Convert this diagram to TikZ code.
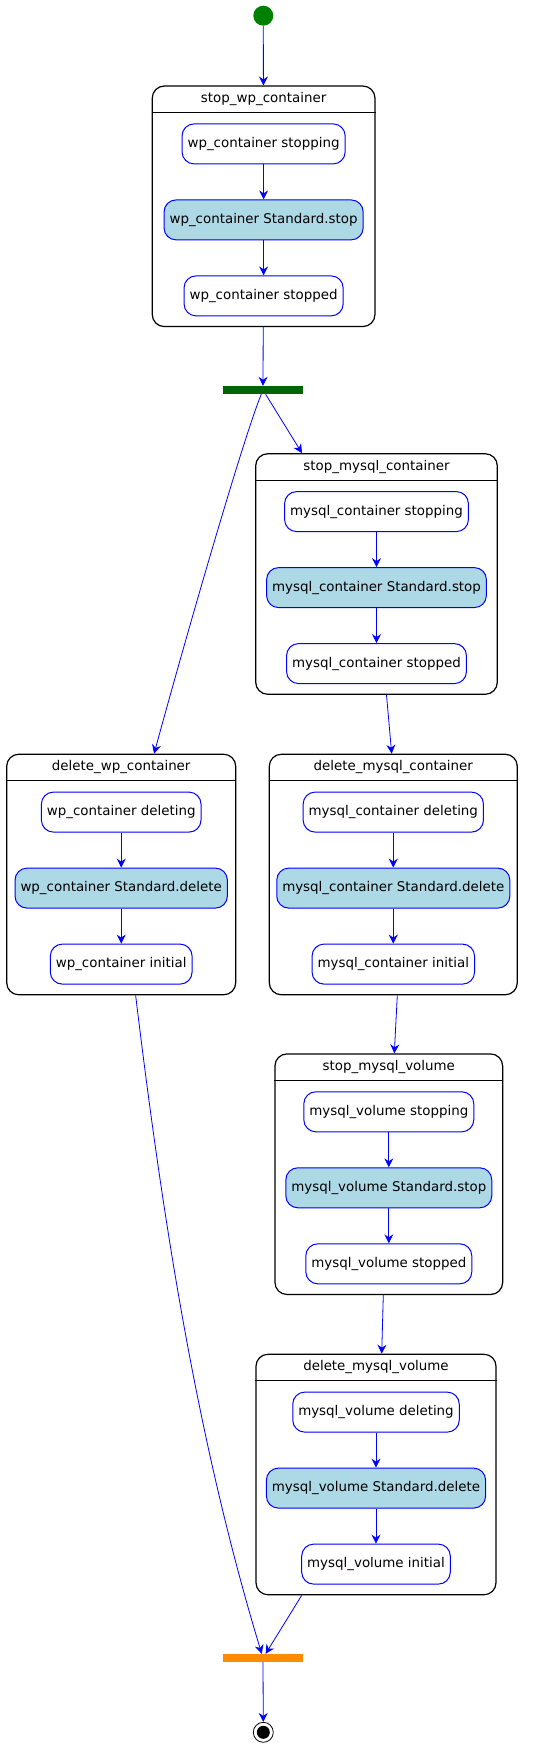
\documentclass[tikz,border=0pt]{standalone}
\usepackage{fontspec}
\setmainfont{DejaVu Sans}
\usetikzlibrary{arrows.meta}
\definecolor{lightblue}{HTML}{ADD8E6}
\definecolor{startgreen}{HTML}{008000}
\definecolor{forkgreen}{HTML}{006400}
\definecolor{joinorange}{HTML}{FF8C00}
\tikzstyle{compound} = [rectangle, rounded corners=12pt, minimum height=240.5pt, draw=black, line width=1.2pt]
\tikzstyle{header} = [anchor=north, minimum height=26.5pt, inner sep=0pt]
\tikzstyle{headline} = [line width=0.9pt]
\tikzstyle{activity} = [rectangle, rounded corners=12pt, minimum height=40pt, inner xsep=5.5pt, draw=blue, line width=1pt, fill=white]
\tikzstyle{call} = [activity, fill=lightblue]
\tikzstyle{bar} = [rectangle, minimum width=80pt, minimum height=8pt, inner sep=0pt]
\tikzstyle{arrow} = [blue, line width=0.8pt, -{Stealth[length=9pt,width=9pt,inset=3pt]}]

\begin{document}
\begin{tikzpicture}[x=1pt, y=-1pt, node distance=76pt, font=\fontsize{13.4}{16}\selectfont]
\useasboundingbox (0,0) rectangle (536,1747);
\node (start) [circle, fill=startgreen, minimum size=20pt, inner sep=0pt] at (263.3,15.7) {};

% stop_wp_container
\node (stopwp) [compound, minimum width=222.7pt] at (263.6,206.3) {};
\node (stopwph) [header] at (stopwp.north) {stop\_wp\_container};
\draw [headline] (stopwp.west |- stopwph.south) -- (stopwp.east |- stopwph.south);
\node (wpstopping) [activity, below of=stopwph, node distance=45pt] {wp\_container stopping};
\node (wpstop) [call, below of=wpstopping] {wp\_container Standard.stop};
\node (wpstopped) [activity, below of=wpstop] {wp\_container stopped};
\draw [arrow] (wpstopping) -- (wpstop);
\draw [arrow] (wpstop) -- (wpstopped);

\node (fork) [bar, fill=forkgreen] at (263,390) {};

% stop_mysql_container
\node (stopmc) [compound, minimum width=241.6pt] at (376.5,574) {};
\node (stopmch) [header] at (stopmc.north) {stop\_mysql\_container};
\draw [headline] (stopmc.west |- stopmch.south) -- (stopmc.east |- stopmch.south);
\node (mcstopping) [activity, below of=stopmch, node distance=45pt] {mysql\_container stopping};
\node (mcstop) [call, below of=mcstopping] {mysql\_container Standard.stop};
\node (mcstopped) [activity, below of=mcstop] {mysql\_container stopped};
\draw [arrow] (mcstopping) -- (mcstop);
\draw [arrow] (mcstop) -- (mcstopped);

% delete_wp_container
\node (delwp) [compound, minimum width=229pt] at (121.2,874.5) {};
\node (delwph) [header] at (delwp.north) {delete\_wp\_container};
\draw [headline] (delwp.west |- delwph.south) -- (delwp.east |- delwph.south);
\node (wpdeleting) [activity, below of=delwph, node distance=45pt] {wp\_container deleting};
\node (wpdelete) [call, below of=wpdeleting] {wp\_container Standard.delete};
\node (wpinitial) [activity, below of=wpdelete] {wp\_container initial};
\draw [arrow] (wpdeleting) -- (wpdelete);
\draw [arrow] (wpdelete) -- (wpinitial);

% delete_mysql_container
\node (delmc) [compound, minimum width=248pt] at (393.3,874.5) {};
\node (delmch) [header] at (delmc.north) {delete\_mysql\_container};
\draw [headline] (delmc.west |- delmch.south) -- (delmc.east |- delmch.south);
\node (mcdeleting) [activity, below of=delmch, node distance=45pt] {mysql\_container deleting};
\node (mcdelete) [call, below of=mcdeleting] {mysql\_container Standard.delete};
\node (mcinitial) [activity, below of=mcdelete] {mysql\_container initial};
\draw [arrow] (mcdeleting) -- (mcdelete);
\draw [arrow] (mcdelete) -- (mcinitial);

% stop_mysql_volume
\node (stopvol) [compound, minimum width=227.7pt] at (388.8,1174.2) {};
\node (stopvolh) [header] at (stopvol.north) {stop\_mysql\_volume};
\draw [headline] (stopvol.west |- stopvolh.south) -- (stopvol.east |- stopvolh.south);
\node (volstopping) [activity, below of=stopvolh, node distance=45pt] {mysql\_volume stopping};
\node (volstop) [call, below of=volstopping] {mysql\_volume Standard.stop};
\node (volstopped) [activity, below of=volstop] {mysql\_volume stopped};
\draw [arrow] (volstopping) -- (volstop);
\draw [arrow] (volstop) -- (volstopped);

% delete_mysql_volume
\node (delvol) [compound, minimum width=240pt] at (376,1474.5) {};
\node (delvolh) [header] at (delvol.north) {delete\_mysql\_volume};
\draw [headline] (delvol.west |- delvolh.south) -- (delvol.east |- delvolh.south);
\node (voldeleting) [activity, below of=delvolh, node distance=45pt] {mysql\_volume deleting};
\node (voldelete) [call, below of=voldeleting] {mysql\_volume Standard.delete};
\node (volinitial) [activity, below of=voldelete] {mysql\_volume initial};
\draw [arrow] (voldeleting) -- (voldelete);
\draw [arrow] (voldelete) -- (volinitial);

\node (join) [bar, fill=joinorange] at (263,1658) {};
\node (end) [circle, draw=black, line width=0.8pt, minimum size=20pt, inner sep=0pt] at (263.3,1732.3) {};
\fill (end.center) circle (6.5pt);

\draw [arrow] (start) -- (stopwp);
\draw [arrow] (stopwp) -- (fork);
\draw [arrow] (fork) -- (stopmc);
\draw [arrow] (fork) .. controls (243,439) and (187,633) .. (delwp);
\draw [arrow] ([xshift=10pt]stopmc.south) -- ([xshift=-1.6pt]delmc.north);
\draw [arrow] ([xshift=4pt]delmc.south) -- ([xshift=5.5pt]stopvol.north);
\draw [arrow] ([xshift=-5.5pt]stopvol.south) -- ([xshift=5.7pt]delvol.north);
\draw [arrow] (delwp) .. controls (165.7,1245) and (201,1453) .. (join);
\draw [arrow] (delvol) -- (join);
\draw [arrow] (join) -- (end);
\end{tikzpicture}
\end{document}
